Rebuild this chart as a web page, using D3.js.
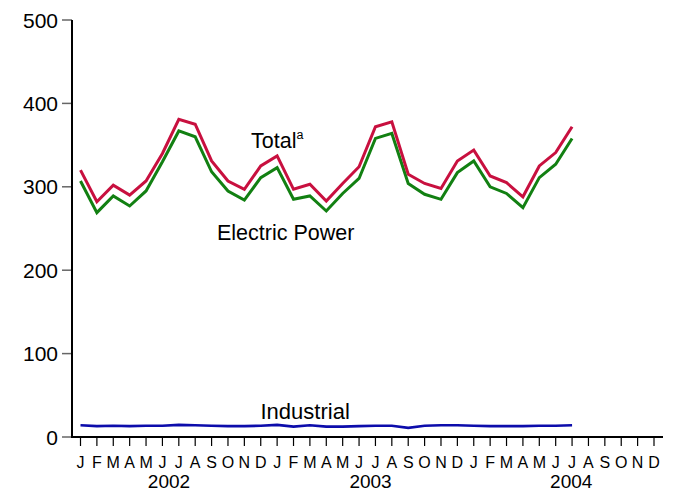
<!DOCTYPE html>
<html><head><meta charset="utf-8">
<script src="https://cdn.jsdelivr.net/npm/d3@7"></script>
<style>body{margin:0;background:#fff}svg{display:block;font-family:"Liberation Sans",Arial,sans-serif}</style>
</head><body><svg id="c" width="674" height="491"></svg>
<script>
const monthLabels = ["J","F","M","A","M","J","J","A","S","O","N","D","J","F","M","A","M","J","J","A","S","O","N","D","J","F","M","A","M","J","J","A","S","O","N","D"];
const yearLabels = ["2002","2003","2004"];
const yearPos = [5.4, 17.7, 29.95];
const yTicks = [0,100,200,300,400,500];
const total = [320,282,302,290,307,340,381,375,331,307,297,325,337,297,303,283,304,324,372,378,315,304,298,331,344,313,305,288,325,341,372];
const electric = [307,269,289,277,295,330,367,360,318,295,284,311,323,285,289,271,292,310,358,364,304,291,285,317,331,300,292,275,311,327,358];
const industrial = [14,13,13.5,13,13.5,13.5,14.5,14,13.5,13,13,13.5,14.5,12.5,14,12.5,12.5,13,13.5,13.5,11,13.5,14,14,13.5,13,13,13,13.5,13.5,14];

const svg = d3.select("#c");
const x = d3.scaleLinear().domain([0,35]).range([80.5,654]);
const y = d3.scaleLinear().domain([0,500]).range([437,20]);
const axisX0 = 72, axisX1 = 663;

// y axis
const ya = svg.append("g");
ya.selectAll("line.t").data(yTicks).join("line")
  .attr("x1",62).attr("x2",axisX0).attr("y1",d=>y(d)).attr("y2",d=>y(d))
  .attr("stroke","#666").attr("stroke-width",1.5);
ya.selectAll("text").data(yTicks).join("text")
  .attr("x",58).attr("y",d=>y(d)).attr("dy","0.36em").attr("text-anchor","end")
  .attr("font-size",21).attr("fill","#000").text(d=>d);

// x axis ticks
const xa = svg.append("g");
xa.selectAll("line").data(monthLabels).join("line")
  .attr("x1",(d,i)=>x(i)).attr("x2",(d,i)=>x(i)).attr("y1",437).attr("y2",446)
  .attr("stroke","#000").attr("stroke-width",1.2);
xa.selectAll("text.m").data(monthLabels).join("text").attr("class","m")
  .attr("x",(d,i)=>x(i)).attr("y",468).attr("text-anchor","middle")
  .attr("font-size",16).attr("fill","#000").text(d=>d);
xa.selectAll("text.y").data(yearLabels).join("text").attr("class","y")
  .attr("x",(d,i)=>x(yearPos[i])).attr("y",488).attr("text-anchor","middle")
  .attr("font-size",19).attr("fill","#000").text(d=>d);

// lines
const line = d3.line().x((d,i)=>x(i)).y(d=>y(d));
svg.append("path").datum(industrial).attr("d",line).attr("fill","none")
  .attr("stroke","#0c0cab").attr("stroke-width",2.6);
svg.append("path").datum(electric).attr("d",line).attr("fill","none")
  .attr("stroke","#128012").attr("stroke-width",3);
svg.append("path").datum(total).attr("d",line).attr("fill","none")
  .attr("stroke","#c8103f").attr("stroke-width",3);

// axis lines
svg.append("line").attr("x1",axisX0).attr("x2",axisX0).attr("y1",y(500)).attr("y2",438)
  .attr("stroke","#000").attr("stroke-width",2);
svg.append("line").attr("x1",axisX0-1).attr("x2",axisX1).attr("y1",437).attr("y2",437)
  .attr("stroke","#000").attr("stroke-width",2);

// labels
const t = svg.append("text").attr("x",251).attr("y",147.5).attr("font-size",21.5).attr("fill","#000");
t.append("tspan").text("Total");
t.append("tspan").attr("font-size",12.5).attr("dy",-8.5).text("a");
svg.append("text").attr("x",217).attr("y",239.5).attr("font-size",21.5).attr("fill","#000").text("Electric Power");
svg.append("text").attr("x",260.5).attr("y",418.5).attr("font-size",22).attr("fill","#000").text("Industrial");
</script></body></html>
